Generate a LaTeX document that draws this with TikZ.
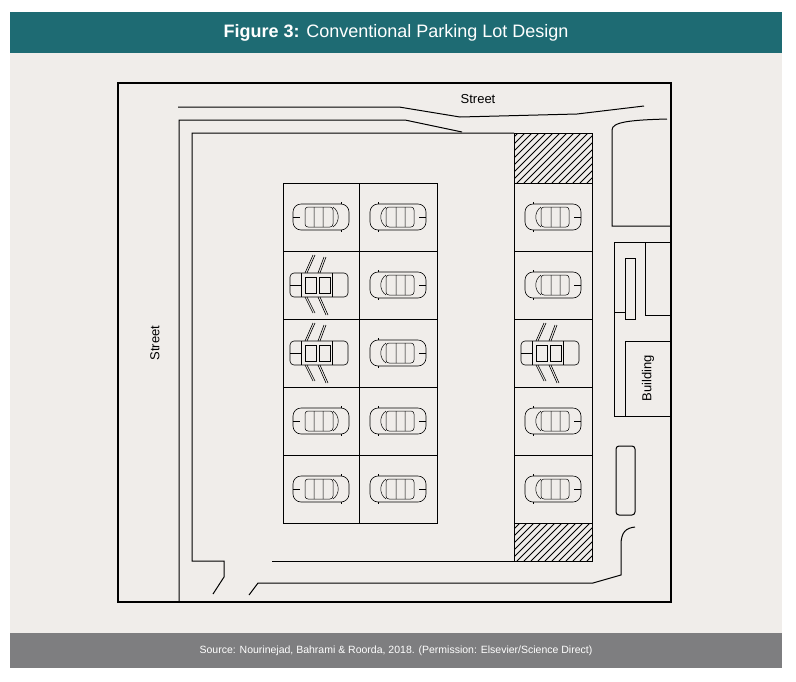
\documentclass[tikz,border=0pt]{standalone}
\usepackage{fontspec}
\setmainfont{Liberation Sans}
\definecolor{paper}{HTML}{F0EDEA}
\definecolor{teal}{HTML}{1E6B73}
\definecolor{footgray}{HTML}{7E7E80}
\tikzset{
  plan/.style={line width=1pt},
  frame/.style={line width=1.6pt},
  stall/.style={line width=0.9pt},
  label/.style={font=\fontsize{13}{15}\selectfont},
  car/.pic={
    \draw[line width=0.6pt,rounded corners=8pt] (-28,-13) rectangle (28,13);
    \draw[line width=0.5pt,rounded corners=3pt] (-16,-10) rectangle (12,10);
    \draw[line width=0.5pt] (-7,-10) -- (-7,10) (2,-10) -- (2,10) (12,-10) .. controls (19,-5) and (19,5) .. (12,10);
    \draw[line width=0.5pt] (-28,0) -- (-21,0) (20,-13) -- (20,-15) (20,13) -- (20,15);
  },
  opencar/.pic={
    \draw[line width=0.6pt,rounded corners=4pt] (-30,-12) rectangle (28,12);
    \draw[line width=0.5pt] (-19,-12) -- (-19,12) (12,-12) -- (12,12) (-30,0) -- (-19,0);
    \draw[line width=0.5pt] (-15,-8) rectangle (-4,8) (-1,-8) rectangle (10,8);
    \draw[line width=0.6pt] (-15,-12) -- (-7,-30) (-13,-12) -- (-5,-30)
      (-2,-12) -- (4,-28) (0,-12) -- (6,-28)
      (-15,12) -- (-7,28) (-13,12) -- (-5,28) (-2,12) -- (6,30) (0,12) -- (8,30);
  }
}
\begin{document}
\begin{tikzpicture}[x=1pt,y=-1pt]
  \useasboundingbox (0,0) rectangle (796,681);
  % Hintergrund
  \fill[paper] (10,12) rectangle (782,668);
  \fill[teal] (10,12) rectangle (782,53);
  \fill[footgray] (10,633) rectangle (782,668);
  \node[white,font=\fontsize{18}{20}\selectfont] (title) at (396,33) {\textbf{Figure 3:} Conventional Parking Lot Design};
  \node[white,font=\fontsize{10.5}{12}\selectfont] (source) at (396,651) {Source: Nourinejad, Bahrami \& Roorda, 2018. (Permission: Elsevier/Science Direct)};

  % Rahmen
  \draw[frame] (118,83) rectangle (671,602);

  % Strassen
  \draw[plan] (178,107) -- (399,107) -- (460,117) -- (577,114) -- (644,106);
  \draw[plan] (179,602) -- (179,120) -- (405,120) -- (462,132);
  \draw[plan] (514,133) -- (192,133) -- (192,561) -- (224,561) -- (224,577) -- (213,594);
  \draw[plan] (272,561) -- (514,561);
  \draw[plan] (249,595) -- (258,583) -- (593,583) -- (621,575) -- (621,545) .. controls (621,532) and (626,528) .. (635,527);
  \draw[plan] (667,119) .. controls (630,120) and (612,122) .. (612,130) -- (612,226) -- (671,226);
  \node[label] (streettop) at (478,99) {Street};
  \node[label,rotate=90] (streetleft) at (155,343) {Street};

  % Gebaeude
  \draw[plan] (671,242) -- (614,242) -- (614,416) -- (671,416);
  \draw[plan] (645,242) -- (645,315) -- (671,315);
  \draw[plan] (625,258) rectangle (635,319);
  \draw[plan] (614,312) -- (625,312);
  \draw[plan] (625,416) -- (625,341) -- (671,341);
  \node[label,rotate=90] (building) at (648,378) {Building};
  \draw[plan,rounded corners=3pt] (616,446) rectangle (635,515);

  % Schraffuren
  \foreach \ytop/\ybot in {133/183,523/561} {
    \begin{scope}
      \clip (514,\ytop) rectangle (592,\ybot);
      \foreach \k in {-60,-53,...,130}
        \draw[line width=0.8pt] (514+\k,\ybot) -- (514+\k+60,\ybot-60);
    \end{scope}
    \draw[stall] (514,\ytop) rectangle (592,\ybot);
  }

  % Stellplaetze
  \foreach \r in {0,...,4} {
    \draw[stall] (283,183+68*\r) rectangle (359,251+68*\r);
    \draw[stall] (359,183+68*\r) rectangle (437,251+68*\r);
    \draw[stall] (514,183+68*\r) rectangle (592,251+68*\r);
  }

  % Autos
  \foreach \r in {0,3,4} \pic at (321,217+68*\r) {car};
  \foreach \r in {1,2} \pic at (320,217+68*\r) {opencar};
  \foreach \r in {0,...,4} \pic[xscale=-1] at (398,217+68*\r) {car};
  \foreach \r in {0,1,3,4} \pic[xscale=-1] at (553,217+68*\r) {car};
  \pic at (551,353) {opencar};
\end{tikzpicture}
\end{document}
